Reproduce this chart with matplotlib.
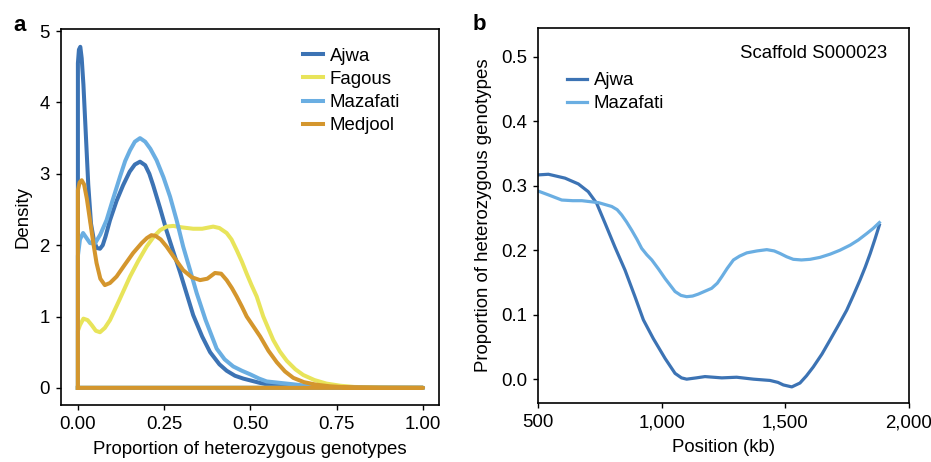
import matplotlib
matplotlib.use("Agg")
import matplotlib.pyplot as plt
import matplotlib.ticker as ticker

# panel a: density of heterozygous genotype proportion
ajwa_x = [0.0, 0.003, 0.007, 0.011, 0.016, 0.022, 0.03, 0.038, 0.047,
          0.055, 0.064, 0.072, 0.08, 0.093, 0.112, 0.131, 0.15, 0.165,
          0.18, 0.195, 0.207, 0.218, 0.238, 0.257, 0.277, 0.296, 0.315,
          0.334, 0.36, 0.383, 0.41, 0.431, 0.455, 0.479, 0.503, 0.527,
          0.56, 0.6, 0.7, 0.8, 1.0]
ajwa_y = [4.55, 4.74, 4.78, 4.62, 4.25, 3.65, 2.85, 2.3, 2.05,
          1.96, 1.95, 2.0, 2.12, 2.35, 2.62, 2.84, 3.03, 3.13,
          3.17, 3.12, 3.0, 2.84, 2.52, 2.2, 1.9, 1.62, 1.32,
          1.02, 0.72, 0.5, 0.33, 0.24, 0.17, 0.13, 0.1, 0.07,
          0.04, 0.02, 0.005, 0.0, 0.0]

fagous_x = [0.0, 0.006, 0.016, 0.028, 0.04, 0.052, 0.064, 0.078, 0.093,
            0.12, 0.151, 0.175, 0.199, 0.22, 0.238, 0.257, 0.276, 0.3,
            0.334, 0.36, 0.392, 0.41, 0.431, 0.445, 0.46, 0.475, 0.489,
            0.503, 0.518, 0.537, 0.566, 0.585, 0.605, 0.63, 0.653, 0.685,
            0.72, 0.76, 0.8, 0.9, 1.0]
fagous_y = [0.8, 0.88, 0.97, 0.95, 0.88, 0.8, 0.78, 0.84, 0.95,
            1.23, 1.56, 1.78, 1.98, 2.12, 2.21, 2.26, 2.27, 2.25,
            2.23, 2.23, 2.26, 2.24, 2.17, 2.08, 1.93, 1.77, 1.6,
            1.44, 1.28, 1.0, 0.67, 0.51, 0.38, 0.26, 0.18, 0.11,
            0.06, 0.03, 0.013, 0.002, 0.0]

mazafati_x = [0.0, 0.006, 0.015, 0.025, 0.035, 0.049, 0.065, 0.083,
              0.1, 0.122, 0.137, 0.151, 0.165, 0.18, 0.195, 0.21, 0.228,
              0.248, 0.267, 0.286, 0.305, 0.325, 0.344, 0.37, 0.402,
              0.425, 0.45, 0.475, 0.499, 0.525, 0.547, 0.585, 0.624,
              0.67, 0.75, 0.85, 1.0]
mazafati_y = [1.85, 2.08, 2.17, 2.1, 2.03, 2.02, 2.15, 2.35,
              2.62, 2.96, 3.18, 3.33, 3.45, 3.5, 3.45, 3.35, 3.19,
              2.95, 2.68, 2.35, 1.98, 1.65, 1.33, 0.95, 0.55,
              0.4, 0.3, 0.24, 0.19, 0.13, 0.09, 0.07, 0.05,
              0.025, 0.008, 0.002, 0.0]

medjool_x = [0.0, 0.005, 0.011, 0.018, 0.026, 0.035, 0.045, 0.054, 0.065,
             0.078, 0.093, 0.112, 0.135, 0.16, 0.185, 0.2, 0.213, 0.225,
             0.24, 0.257, 0.28, 0.305, 0.33, 0.354, 0.375, 0.397, 0.415,
             0.431, 0.446, 0.46, 0.475, 0.489, 0.503, 0.528, 0.552, 0.576,
             0.6, 0.624, 0.655, 0.69, 0.73, 0.77, 0.88, 1.0]
medjool_y = [2.77, 2.88, 2.91, 2.85, 2.65, 2.35, 2.02, 1.75, 1.53,
             1.44, 1.47, 1.56, 1.72, 1.89, 2.03, 2.1, 2.14, 2.13,
             2.08, 1.98, 1.82, 1.65, 1.55, 1.51, 1.53, 1.61, 1.6,
             1.51, 1.4, 1.28, 1.14, 1.0, 0.9, 0.72, 0.52, 0.36,
             0.23, 0.14, 0.08, 0.045, 0.022, 0.01, 0.002, 0.0]

# panel b: scaffold S000023
pos_ajwa = [500, 542, 609, 663, 703, 737, 771, 811, 852, 892, 926, 966,
            1014, 1054, 1080, 1101, 1140, 1175, 1243, 1303, 1371, 1438,
            1470, 1492, 1526, 1559, 1585, 1613, 1648, 1681, 1715, 1748,
            1775, 1802, 1823, 1843, 1862, 1880]
het_ajwa = [0.317, 0.318, 0.312, 0.303, 0.291, 0.273, 0.242, 0.205, 0.169,
            0.128, 0.092, 0.063, 0.032, 0.009, 0.002, 0.0, 0.002, 0.004,
            0.002, 0.003, 0.0, -0.002, -0.005, -0.009, -0.012, -0.006,
            0.005, 0.019, 0.039, 0.061, 0.084, 0.107, 0.13, 0.154, 0.174,
            0.195, 0.217, 0.239]

pos_mazafati = [500, 542, 596, 640, 677, 744, 798, 820, 838, 858, 879, 900,
                919, 940, 960, 987, 1014, 1054, 1078, 1101, 1125, 1148,
                1202, 1225, 1243, 1265, 1290, 1315, 1344, 1385, 1425, 1455,
                1479, 1505, 1532, 1565, 1600, 1640, 1681, 1720, 1762, 1795,
                1829, 1855, 1880]
het_mazafati = [0.292, 0.286, 0.278, 0.277, 0.277, 0.274, 0.268, 0.263,
                0.255, 0.244, 0.231, 0.217, 0.203, 0.193, 0.185, 0.171,
                0.156, 0.136, 0.13, 0.128, 0.129, 0.132, 0.141, 0.149,
                0.159, 0.172, 0.185, 0.191, 0.196, 0.199, 0.201, 0.199,
                0.195, 0.19, 0.186, 0.185, 0.186, 0.189, 0.194, 0.2, 0.208,
                0.216, 0.226, 0.234, 0.243]

colors = {
    "Ajwa": "#3c73b4",
    "Fagous": "#e8e45a",
    "Mazafati": "#6aaee2",
    "Medjool": "#d4962d",
}

FS = 13.4


def style_axis(ax):
    for side in ax.spines.values():
        side.set_linewidth(1.2)
    ax.tick_params(direction="out", length=3.5, width=1.0,
                   labelsize=FS, pad=4.5, top=False, right=False)


def main():
    plt.rcParams["font.family"] = ["Liberation Sans", "DejaVu Sans"]

    fig = plt.figure(figsize=(9.31, 4.62), dpi=100)

    ax = fig.add_axes([0.0655, 0.1234, 0.406, 0.8139])
    series = [
        ("Ajwa", ajwa_x, ajwa_y),
        ("Fagous", fagous_x, fagous_y),
        ("Mazafati", mazafati_x, mazafati_y),
        ("Medjool", medjool_x, medjool_y),
    ]
    for name, xs, ys in series:
        # closed density outline, back along the baseline
        px = [0.0] + xs + [0.0]
        py = [0.0] + ys + [0.0]
        ax.plot(px, py, color=colors[name], lw=2.9, label=name,
                solid_joinstyle="round")
    ax.set_xlim(-0.049, 1.046)
    ax.set_ylim(-0.24, 5.03)
    ax.set_xticks([0, 0.25, 0.5, 0.75, 1.0])
    ax.set_yticks([0, 1, 2, 3, 4, 5])
    ax.xaxis.set_major_formatter(ticker.FormatStrFormatter("%.2f"))
    style_axis(ax)
    ax.set_xlabel("Proportion of heterozygous genotypes", fontsize=FS,
                  labelpad=6)
    ax.set_ylabel("Density", fontsize=FS, labelpad=6)
    ax.legend(loc="upper left", bbox_to_anchor=(0.64, 0.95), frameon=False,
              fontsize=FS, handlelength=1.07, handletextpad=0.38,
              labelspacing=0.33, borderaxespad=0, borderpad=0)
    fig.text(0.014, 0.933, "a", fontsize=16, fontweight="bold")

    ax2 = fig.add_axes([0.5779, 0.1277, 0.3985, 0.8117])
    ax2.plot(pos_ajwa, het_ajwa, color=colors["Ajwa"], lw=2.3, label="Ajwa")
    ax2.plot(pos_mazafati, het_mazafati, color=colors["Mazafati"], lw=2.3,
             label="Mazafati")
    ax2.set_xlim(500, 2000)
    ax2.set_ylim(-0.037, 0.545)
    ax2.set_xticks([500, 1000, 1500, 2000])
    ax2.set_yticks([0.0, 0.1, 0.2, 0.3, 0.4, 0.5])
    ax2.xaxis.set_major_formatter(
        ticker.FuncFormatter(lambda v, p: f"{v:,.0f}"))
    ax2.yaxis.set_major_formatter(ticker.FormatStrFormatter("%.1f"))
    style_axis(ax2)
    ax2.set_xlabel("Position (kb)", fontsize=FS, labelpad=6)
    ax2.set_ylabel("Proportion of heterozygous genotypes", fontsize=FS,
                   labelpad=6)
    ax2.text(0.9407, 0.9325, "Scaffold S000023", transform=ax2.transAxes,
             ha="right", va="center", fontsize=FS)
    ax2.legend(loc="upper left", bbox_to_anchor=(0.078, 0.882),
               frameon=False, fontsize=FS, handlelength=1.07,
               handletextpad=0.38, labelspacing=0.33, borderaxespad=0,
               borderpad=0)
    fig.text(0.508, 0.934, "b", fontsize=16, fontweight="bold")

    fig.savefig("out.png", dpi=100)


if __name__ == "__main__":
    main()
